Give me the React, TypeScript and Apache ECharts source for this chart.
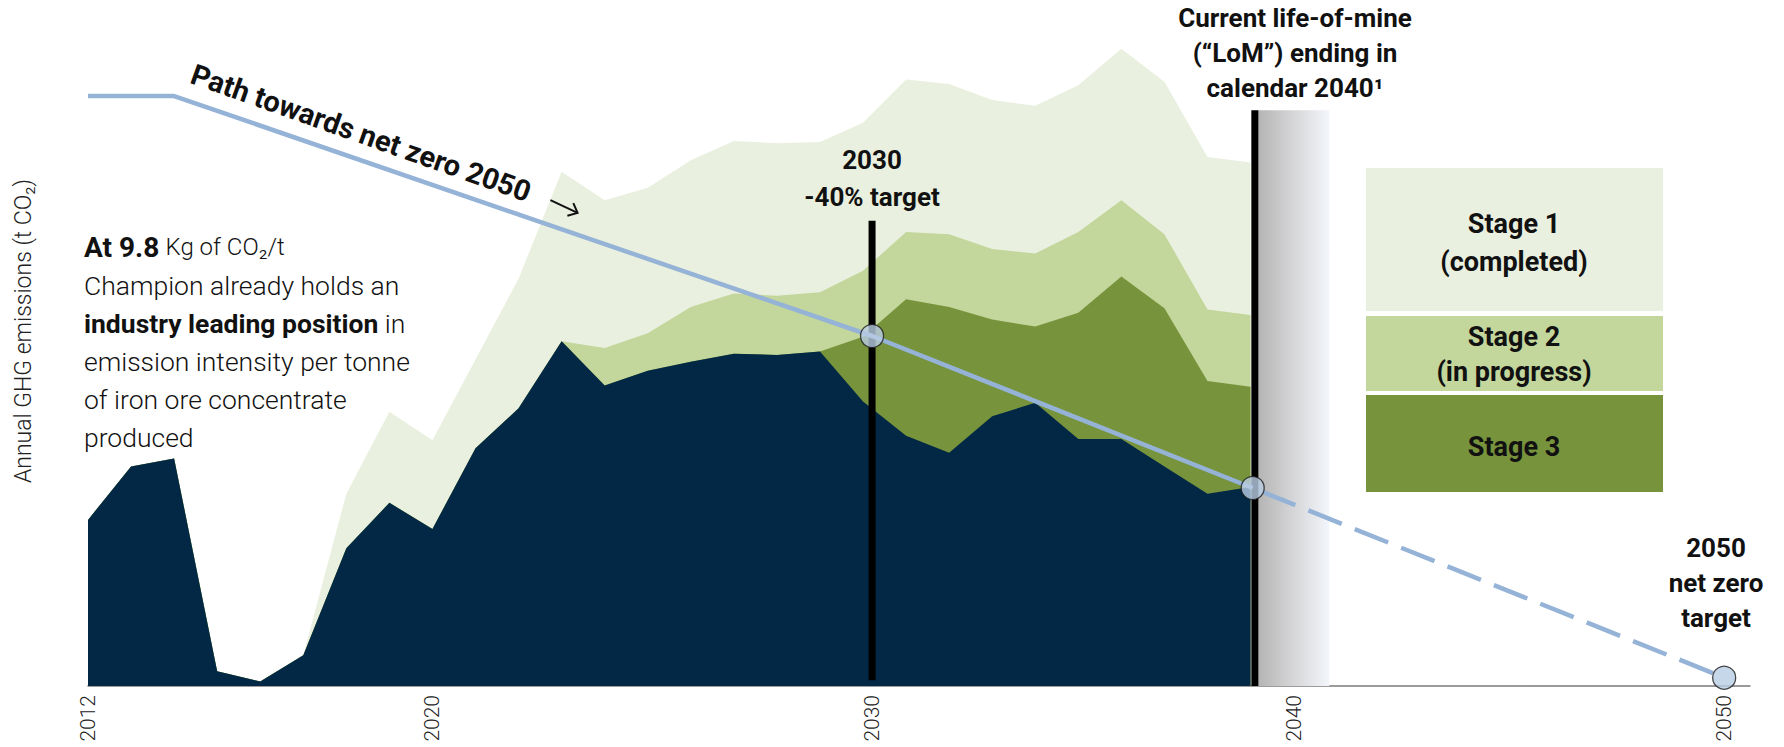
import React, { useEffect, useRef } from "react";
import * as echarts from "echarts";

// ---------- data ----------
const years = [
  2012, 2013, 2014, 2015, 2016, 2017, 2018, 2019, 2020, 2021, 2022, 2023, 2024, 2025,
  2026, 2027, 2028, 2029, 2030, 2031, 2032, 2033, 2034, 2035, 2036, 2037, 2038, 2039,
];
// current operations (base)
const baseEmissions = [
  14.6, 19.3, 20.0, 1.3, 0.4, 2.7, 12.1, 16.1, 13.8, 20.9, 24.4, 30.3, 26.4, 27.7,
  28.5, 29.2, 29.1, 29.4, 25.0, 22.0, 20.5, 23.7, 24.9, 21.7, 21.7, 19.3, 16.9, 17.5,
];
const stage3 = [
  0, 0, 0, 0, 0, 0, 0, 0, 0, 0, 0, 0, 0, 0,
  0, 0, 0, 0, 5.7, 12.0, 12.8, 8.5, 6.7, 11.1, 14.3, 13.9, 9.9, 8.8,
];
const stage2 = [
  0, 0, 0, 0, 0, 0, 0, 0, 0, 0, 0, 0, 3.3, 3.3,
  4.8, 5.3, 5.2, 5.2, 5.8, 5.9, 6.4, 6.2, 6.4, 7.1, 6.7, 6.5, 6.3, 6.3,
];
const stage1 = [
  0, 0, 0, 0, 0, 0, 4.8, 8.0, 7.8, 7.8, 11.4, 14.9, 13.0, 12.8,
  12.9, 13.4, 13.4, 13.2, 13.0, 13.4, 13.2, 13.1, 13.0, 12.9, 13.3, 13.4, 13.4, 13.4,
];

// path towards net zero 2050
const pathYears = [2012, 2014, 2030.21, 2039.05];
const pathValues = [51.85, 51.85, 30.76, 17.4];
const dashYears = [2039.05, 2050];
const dashValues = [17.4, 0.73];
const milestoneYears = [2030.21, 2039.05, 2050];
const milestoneValues = [30.76, 17.4, 0.73];

// vertical markers
const targetLineX = [2030.21, 2030.21];
const targetLineY = [0.5, 40.9];
const lomLineX = [2039.1, 2039.1];
const lomLineY = [0, 50.6];
const lomBandX = [2039.17, 2040.83];
const lomBandY = [0, 50.6];

const tickValues = [2012, 2020, 2030.21, 2040, 2050];

const COLORS = {
  base: "#022846",
  s1: "#EAF0DF",
  s2: "#C3D69B",
  s3: "#77933C",
  path: "#95B3D7",
  dot: "#B9CDE5",
};

const FONT = "Roboto, 'Noto Sans', sans-serif";

const pairs = (xs: number[], ys: number[]) => xs.map((x, i) => [x, ys[i]]);
const addArr = (a: number[], b: number[]) => a.map((v, i) => +(v + b[i]).toFixed(2));

export default function App() {
  const ref = useRef<HTMLDivElement>(null);

  useEffect(() => {
    if (!ref.current) return;
    const chart = echarts.init(ref.current, null, { renderer: "svg" });

    // cumulative tops of the stacked layers
    const topStage3 = addArr(baseEmissions, stage3);
    const topStage2 = addArr(topStage3, stage2);
    const topStage1 = addArr(topStage2, stage1);

    const area = (name: string, vals: number[], color: string, z: number) => ({
      name,
      type: "line",
      data: pairs(years, vals),
      symbol: "none",
      lineStyle: { width: 0 },
      areaStyle: { color, opacity: 1 },
      z,
      silent: true,
    });

    const option: any = {
      animation: false,
      backgroundColor: "#ffffff",
      grid: { left: 88, right: 34, top: 3.3, bottom: 61, containLabel: false, outerBoundsMode: "none" },
      xAxis: {
        type: "value",
        min: 2012,
        max: 2050.6,
        splitLine: { show: false },
        axisTick: { show: false },
        axisLine: { show: true, onZero: false, lineStyle: { color: "#7a7a7a", width: 1.5 } },
        axisLabel: {
          customValues: tickValues,
          rotate: 90,
          margin: 9,
          fontFamily: FONT,
          fontWeight: 300,
          fontSize: 21,
          color: "#222",
          formatter: (v: number) => String(Math.round(v)),
        },
      },
      yAxis: {
        type: "value",
        min: 0,
        max: 60,
        show: false,
        splitLine: { show: false },
      },
      series: [
        area("Stage 1 (completed)", topStage1, COLORS.s1, 1),
        area("Stage 2 (in progress)", topStage2, COLORS.s2, 1),
        area("Stage 3", topStage3, COLORS.s3, 1),
        area("Current operations", baseEmissions, COLORS.base, 1),
        {
          name: "LoM band",
          type: "line",
          data: [],
          z: 2,
          silent: true,
          markArea: {
            silent: true,
            itemStyle: {
              color: new echarts.graphic.LinearGradient(0, 0, 1, 0, [
                { offset: 0, color: "#b4b4b4" },
                { offset: 0.5, color: "#d6d6d8" },
                { offset: 1, color: "#f3f6fb" },
              ]),
            },
            data: [[{ coord: [lomBandX[0], lomBandY[1]] }, { coord: [lomBandX[1], lomBandY[0]] }]],
          },
        },
        {
          name: "2030 target",
          type: "line",
          data: pairs(targetLineX, targetLineY),
          symbol: "none",
          lineStyle: { color: "#000", width: 7, cap: "butt" },
          z: 3,
          silent: true,
        },
        {
          name: "LoM end",
          type: "line",
          data: pairs(lomLineX, lomLineY),
          symbol: "none",
          lineStyle: { color: "#000", width: 7, cap: "butt" },
          z: 3,
          silent: true,
        },
        {
          name: "Path",
          type: "line",
          data: pairs(pathYears, pathValues),
          symbol: "none",
          lineStyle: { color: COLORS.path, width: 4.5 },
          z: 4,
          silent: true,
        },
        {
          name: "Path dashed",
          type: "line",
          data: pairs(dashYears, dashValues),
          symbol: "none",
          lineStyle: { color: COLORS.path, width: 4.5, type: [36, 14], dashOffset: -10 },
          z: 4,
          silent: true,
        },
        {
          name: "Milestones",
          type: "scatter",
          data: pairs(milestoneYears, milestoneValues),
          symbol: "circle",
          symbolSize: 23,
          itemStyle: { color: COLORS.dot, borderColor: "#1c1c1c", borderWidth: 1.3 },
          z: 5,
          silent: true,
        },
      ],
      graphic: {
        elements: [
          {
            type: "text",
            x: 23,
            y: 331,
            z: 20,
            rotation: Math.PI / 2,
            style: {
              text: "Annual GHG emissions (t CO₂)",
              fontFamily: FONT,
              fontWeight: 300,
              fontSize: 23,
              fill: "#222",
              align: "center",
              verticalAlign: "middle",
            },
          },
          {
            type: "text",
            x: 84,
            y: 228,
            z: 20,
            style: {
              text: [
                "{b|At 9.8} {s|Kg of CO₂/t}",
                "{l|Champion already holds an}",
                "{m|industry leading position} {l|in}",
                "{l|emission intensity per tonne}",
                "{l|of iron ore concentrate}",
                "{l|produced}",
              ].join("\n"),
              fontFamily: FONT,
              fontSize: 26,
              fontWeight: 300,
              fill: "#111",
              align: "left",
              verticalAlign: "top",
              rich: {
                b: { fontFamily: FONT, fontSize: 28, fontWeight: "bold", fill: "#111", lineHeight: 38 },
                s: { fontFamily: FONT, fontSize: 24, fontWeight: 300, fill: "#111", lineHeight: 38 },
                l: { fontFamily: FONT, fontSize: 26.5, fontWeight: 300, fill: "#111", lineHeight: 38 },
                m: { fontFamily: FONT, fontSize: 26.5, fontWeight: "bold", fill: "#111", lineHeight: 38 },
              },
            },
          },
          {
            type: "text",
            x: 361,
            y: 133,
            z: 20,
            rotation: (-19.5 * Math.PI) / 180,
            style: {
              text: "Path towards net zero 2050",
              fontFamily: FONT,
              fontWeight: "bold",
              fontSize: 29,
              fill: "#111",
              align: "center",
              verticalAlign: "middle",
            },
          },
          {
            type: "group",
            x: 564,
            y: 206.5,
            z: 20,
            rotation: (-25 * Math.PI) / 180,
            children: [
              {
                type: "line",
                z: 20,
                shape: { x1: -15, y1: 0, x2: 15, y2: 0 },
                style: { stroke: "#111", lineWidth: 2 },
              },
              {
                type: "polyline",
                z: 20,
                shape: { points: [[7, -7], [15, 0], [7, 7]] },
                style: { stroke: "#111", lineWidth: 2, fill: null },
              },
            ],
          },
          {
            type: "text",
            x: 872,
            y: 178,
            z: 20,
            style: {
              text: "2030\n-40% target",
              fontFamily: FONT,
              fontWeight: "bold",
              fontSize: 26,
              lineHeight: 37,
              fill: "#111",
              align: "center",
              verticalAlign: "middle",
            },
          },
          {
            type: "text",
            x: 1295,
            y: 53,
            z: 20,
            style: {
              text: "Current life-of-mine\n(“LoM”) ending in\ncalendar 2040¹",
              fontFamily: FONT,
              fontWeight: "bold",
              fontSize: 26,
              lineHeight: 35,
              fill: "#111",
              align: "center",
              verticalAlign: "middle",
            },
          },
          { type: "rect", z: 20, shape: { x: 1366, y: 168, width: 297, height: 143 }, style: { fill: COLORS.s1 } },
          { type: "rect", z: 20, shape: { x: 1366, y: 316, width: 297, height: 75 }, style: { fill: COLORS.s2 } },
          { type: "rect", z: 20, shape: { x: 1366, y: 395, width: 297, height: 97 }, style: { fill: COLORS.s3 } },
          {
            type: "text",
            x: 1514,
            y: 243,
            z: 21,
            style: {
              text: "Stage 1\n(completed)",
              fontFamily: FONT,
              fontWeight: "bold",
              fontSize: 27,
              lineHeight: 38,
              fill: "#111",
              align: "center",
              verticalAlign: "middle",
            },
          },
          {
            type: "text",
            x: 1514,
            y: 354,
            z: 21,
            style: {
              text: "Stage 2\n(in progress)",
              fontFamily: FONT,
              fontWeight: "bold",
              fontSize: 27,
              lineHeight: 35,
              fill: "#111",
              align: "center",
              verticalAlign: "middle",
            },
          },
          {
            type: "text",
            x: 1514,
            y: 447,
            z: 21,
            style: {
              text: "Stage 3",
              fontFamily: FONT,
              fontWeight: "bold",
              fontSize: 27,
              fill: "#111",
              align: "center",
              verticalAlign: "middle",
            },
          },
          {
            type: "text",
            x: 1716,
            y: 583,
            z: 20,
            style: {
              text: "2050\nnet zero\ntarget",
              fontFamily: FONT,
              fontWeight: "bold",
              fontSize: 26,
              lineHeight: 35,
              fill: "#111",
              align: "center",
              verticalAlign: "middle",
            },
          },
        ],
      },
    };

    chart.setOption(option);
    return () => chart.dispose();
  }, []);

  return (
    <div
      ref={ref}
      style={{ position: "absolute", left: 0, top: 0, width: 1784, height: 747, background: "#fff" }}
    />
  );
}
